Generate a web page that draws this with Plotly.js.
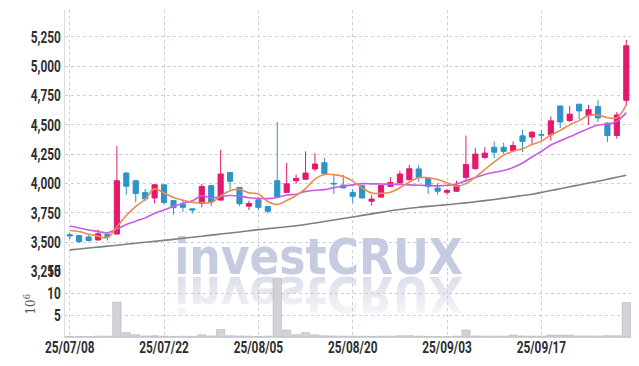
<!DOCTYPE html>
<html>
<head>
<meta charset="utf-8">
<script src="https://cdn.plot.ly/plotly-3.0.1.min.js"></script>
<style>
  html, body { margin: 0; padding: 0; background: #ffffff; }
  #wrap { position: relative; width: 639px; height: 366px; overflow: hidden; background: #fff; }
  #chart { position: absolute; left: 0; top: 0; width: 639px; height: 366px; z-index: 2; }
  .wm { position: absolute; left: 0; width: 639px; height: 49px; text-align: center; z-index: 1;
        font-family: 'DejaVu Sans', sans-serif; font-stretch: condensed; font-weight: bold;
        font-size: 49px; line-height: 49px; white-space: nowrap; }
  #wm1 { top: 233px; color: #c5cbe1; }
  #wm2 { top: 269px; color: #d8dae5; transform: scaleY(-1);
         -webkit-mask-image: linear-gradient(to top, rgba(0,0,0,1) 0%, rgba(0,0,0,0.2) 100%);
         mask-image: linear-gradient(to top, rgba(0,0,0,1) 0%, rgba(0,0,0,0.2) 100%); }
</style>
</head>
<body>
<div id="wrap">
  <div class="wm" id="wm1"><span style="margin-left:-2px">investCRUX</span></div>
  <div class="wm" id="wm2"><span style="margin-left:-2px">investCRUX</span></div>
  <div id="chart"></div>
</div>
<script>
const dates = ['25/07/08','25/07/09','25/07/10','25/07/11','25/07/14','25/07/15','25/07/16','25/07/17','25/07/18','25/07/21',
  '25/07/22','25/07/23','25/07/24','25/07/25','25/07/28','25/07/29','25/07/30','25/07/31','25/08/01','25/08/04',
  '25/08/05','25/08/06','25/08/07','25/08/08','25/08/11','25/08/12','25/08/13','25/08/14','25/08/18','25/08/19',
  '25/08/20','25/08/21','25/08/22','25/08/25','25/08/26','25/08/27','25/08/28','25/08/29','25/09/01','25/09/02',
  '25/09/03','25/09/04','25/09/05','25/09/08','25/09/09','25/09/10','25/09/11','25/09/12','25/09/15','25/09/16',
  '25/09/17','25/09/18','25/09/19','25/09/22','25/09/23','25/09/24','25/09/25','25/09/26','25/09/29','25/09/30'];

const openP  = [3565,3557,3545,3520,3568,3570,4090,4025,3925,3878,3990,3855,3825,3785,3832,3982,3860,4095,3968,3808,
  3862,3805,4025,3925,4025,4037,4125,4178,4002,3987,3925,3982,3850,3885,3977,4005,4033,4125,4047,3962,
  3926,3935,4053,4127,4223,4310,4310,4282,4407,4397,4418,4416,4662,4538,4677,4580,4657,4515,4410,4710];
const highP  = [3580,3560,3565,3608,3575,4320,4095,4030,3955,3995,3990,3860,3862,3790,3998,3990,4288,4100,3970,3855,
  3870,3812,4525,4175,4078,4275,4260,4220,4082,4075,3955,3985,3905,3990,4055,4110,4160,4160,4050,4005,
  3955,4025,4410,4305,4310,4360,4350,4360,4460,4450,4460,4572,4665,4663,4680,4672,4715,4525,4610,5225];
const lowP   = [3525,3495,3505,3515,3515,3565,3905,3840,3850,3830,3825,3735,3760,3745,3798,3808,3855,3950,3808,3775,
  3778,3745,3880,3920,4000,4035,4105,4082,3912,3960,3835,3875,3812,3880,3970,4000,4030,4015,3910,3905,
  3905,3930,4013,4120,4212,4218,4252,4270,4270,4330,4365,4365,4473,4525,4545,4500,4525,4355,4382,4665];
const closeP = [3555,3505,3515,3572,3548,4025,3978,3915,3870,3990,3840,3795,3798,3775,3975,3845,4082,4020,3828,3830,
  3798,3765,3888,3998,4045,4090,4167,4085,3998,3963,3892,3878,3868,3985,4010,4082,4127,4053,3977,3935,
  3942,3985,4162,4252,4260,4268,4275,4325,4360,4438,4414,4535,4525,4592,4620,4630,4560,4410,4585,5175];

const ma5  = [3600,3592,3568,3552,3540,3633,3728,3806,3867,3955,3920,3882,3859,3840,3837,3838,3895,3939,3950,3921,
  3912,3848,3822,3856,3899,3957,4038,4077,4077,4061,4021,3963,3920,3917,3927,3965,4014,4051,4050,4035,
  4007,3978,4000,4055,4120,4185,4243,4276,4298,4333,4362,4414,4454,4501,4537,4580,4585,4562,4561,4672];
const ma10 = [3638,3622,3605,3592,3580,3612,3652,3680,3708,3747,3776,3805,3833,3853,3896,3878,3889,3899,3895,3879,
  3875,3872,3881,3903,3910,3934,3943,3949,3966,3980,3989,4000,3998,3997,3994,3993,3989,3986,3984,3981,
  3986,3996,4026,4053,4078,4096,4111,4138,4176,4227,4274,4329,4365,4399,4435,4471,4500,4508,4531,4605];
const ma60 = [3435,3443,3451,3459,3467,3475,3483,3492,3500,3508,3516,3525,3534,3543,3552,3561,3570,3579,3588,3598,
  3608,3616,3624,3632,3641,3652,3664,3677,3690,3703,3716,3729,3742,3755,3768,3780,3790,3799,3806,3813,
  3820,3828,3836,3845,3855,3865,3876,3887,3898,3910,3925,3941,3957,3973,3989,4005,4020,4037,4055,4072];

const volumeM = [0.15,0.12,0.1,0.2,0.2,8.0,1.0,0.5,0.25,0.3,0.2,0.15,0.2,0.15,0.5,0.25,1.7,0.3,0.25,0.2,
  0.15,0.2,13.5,1.6,0.5,1.0,0.5,0.3,0.25,0.2,0.2,0.2,0.15,0.2,0.2,0.3,0.3,0.2,0.15,0.1,
  0.1,0.2,1.6,0.25,0.2,0.2,0.2,0.45,0.25,0.2,0.2,0.45,0.45,0.45,0.25,0.25,0.25,0.3,0.3,7.9];

const tickDates = ['25/07/08','25/07/22','25/08/05','25/08/20','25/09/03','25/09/17'];
const priceTicks = [3250,3500,3750,4000,4250,4500,4750,5000,5250];
const volTicks = [5,10,15];

const tickFont = {family: "Roboto, 'Liberation Sans', sans-serif", size: 16, color: '#2e2e2e', weight: 'bold'};
const gridC = '#c9cde0';

const traces = [
  {type: 'candlestick', x: dates, open: openP, high: highP, low: lowP, close: closeP,
   increasing: {line: {color: '#e5196b', width: 1}, fillcolor: '#e5196b'},
   decreasing: {line: {color: '#2e93c8', width: 1}, fillcolor: '#2e93c8'},
   xaxis: 'x', yaxis: 'y', showlegend: false, hoverinfo: 'skip'},
  {type: 'scatter', mode: 'lines', x: dates, y: ma60, line: {color: '#7f7f7f', width: 1.6, shape: 'spline'}, xaxis: 'x', yaxis: 'y', showlegend: false, hoverinfo: 'skip'},
  {type: 'scatter', mode: 'lines', x: dates, y: ma10, line: {color: '#c95ae8', width: 1.6, shape: 'spline'}, xaxis: 'x', yaxis: 'y', showlegend: false, hoverinfo: 'skip'},
  {type: 'scatter', mode: 'lines', x: dates, y: ma5, line: {color: '#ef8a4e', width: 1.6, shape: 'spline'}, xaxis: 'x', yaxis: 'y', showlegend: false, hoverinfo: 'skip'},
  {type: 'bar', x: dates, y: volumeM, marker: {color: 'rgba(205,205,212,0.9)', line: {color: 'rgba(175,175,185,0.9)', width: 0.6}},
   xaxis: 'x', yaxis: 'y2', showlegend: false, hoverinfo: 'skip'}
];

const layout = {
  width: 639, height: 366,
  margin: {l: 65, r: 8, t: 10, b: 29},
  paper_bgcolor: 'rgba(0,0,0,0)', plot_bgcolor: 'rgba(0,0,0,0)',
  showlegend: false, bargap: 0.12, boxgap: 0.22,
  xaxis: {type: 'category', range: [-0.5, 59.5], anchor: 'y2',
    tickmode: 'array', tickvals: tickDates, ticktext: tickDates,
    showgrid: true, gridcolor: gridC, griddash: 'dot', gridwidth: 1,
    showline: true, linecolor: '#d0d0d8', linewidth: 1, ticks: '', ticklabelstandoff: -4,
    tickfont: tickFont, rangeslider: {visible: false}, fixedrange: true},
  yaxis: {domain: [0.2, 1], range: [3250, 5480], tickmode: 'array', tickvals: priceTicks,
    tickformat: ',', showgrid: true, gridcolor: gridC, griddash: 'dot', zeroline: false,
    showline: true, linecolor: '#dcdce6', ticks: '', tickfont: tickFont},
  yaxis2: {domain: [0, 0.2], range: [0, 15], tickmode: 'array', tickvals: volTicks,
    showgrid: true, gridcolor: gridC, griddash: 'dot', zeroline: false,
    showline: true, linecolor: '#dcdce6', ticks: '', tickfont: tickFont,
    title: {text: '10<sup>6</sup>', font: {family: 'DejaVu Serif, serif', size: 12, color: '#555'}, standoff: 4}}
};

Plotly.newPlot('chart', traces, layout, {staticPlot: true, displayModeBar: false}).then(function (gd) {
  // condense tick labels horizontally to match the narrow face of the original
  gd.querySelectorAll('.xtick text, .ytick text, .y2tick text').forEach(function (el) {
    const len = el.getComputedTextLength();
    if (len > 0) {
      el.setAttribute('textLength', (len * 0.74).toFixed(1));
      el.setAttribute('lengthAdjust', 'spacingAndGlyphs');
    }
  });
});
</script>
</body>
</html>
